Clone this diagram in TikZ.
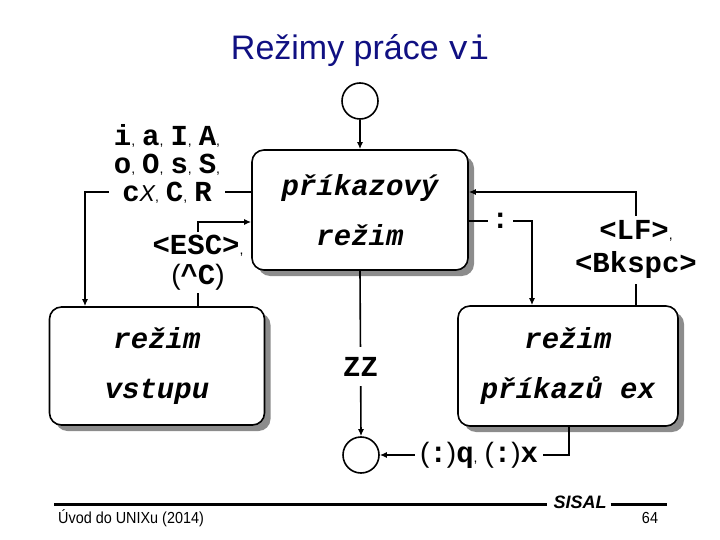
\documentclass[tikz,border=0pt]{standalone}
\usepackage{fontspec}
\usepackage{graphicx}
\setmainfont{Liberation Sans}
\setsansfont{Liberation Sans}
\setmonofont{Liberation Mono}
\usetikzlibrary{arrows.meta,shadows}
\definecolor{titleblue}{RGB}{16,16,130}
\newcommand{\cma}{{\sffamily\mdseries\upshape\fontsize{14}{14}\selectfont,\hspace{7pt}}}
\newcommand{\cmz}{{\sffamily\mdseries\upshape\fontsize{14}{14}\selectfont,}}
\newcommand{\lpar}{{\sffamily\mdseries\upshape\fontsize{28}{28}\selectfont(}}
\newcommand{\rpar}{{\sffamily\mdseries\upshape\fontsize{28}{28}\selectfont)}}
\newcommand{\sX}{{\sffamily\mdseries\itshape\fontsize{23}{23}\selectfont X}}
\begin{document}
\begin{tikzpicture}[x=1pt,y=-1pt,
  mbox/.style={draw, line width=1.6pt, rounded corners=12pt, fill=white, align=center,
    font=\ttfamily\bfseries\itshape\fontsize{29}{50}\selectfont, inner sep=0pt,
    drop shadow={shadow xshift=6pt, shadow yshift=-6pt, fill=black!45, opacity=1}},
  state/.style={circle, draw, line width=1.6pt, minimum size=36pt, inner sep=0pt, fill=white},
  conn/.style={line width=1.6pt},
  arr/.style={conn, -{Latex[length=7pt,width=6pt]}},
  lbl/.style={fill=white, inner sep=5pt, align=center,
    font=\ttfamily\bfseries\fontsize{29}{26}\selectfont}]
\useasboundingbox (0,0) rectangle (720,540);

% title
\node[font=\sffamily\fontsize{34}{34}\selectfont, text=titleblue] (title) at (360,51)
  {Režimy práce {\ttfamily vi}};

% states
\node[state] (start) at (360,101) {};
\node[mbox, minimum width=216pt, minimum height=120pt] (cmd) at (360,210) {příkazový\\režim};
\node[mbox, minimum width=215pt, minimum height=118pt] (inp) at (157,366) {režim\\vstupu};
\node[mbox, minimum width=220pt, minimum height=120pt] (ex) at (568,366) {režim\\příkazů ex};
\node[state] (stop) at (361,455) {};

% turning points
\coordinate (leftTurn) at (85,192);
\coordinate (escTurn) at (198,222);
\coordinate (colonTurn) at (532,221);
\coordinate (lfTurn) at (636,192);
\coordinate (qTurn) at (569,455);

% connectors
\draw[arr] (start) -- (cmd);
\draw[arr] (cmd.south) -- node[lbl, pos=0.58, inner ysep=10pt] (zzl) {ZZ} (stop.north);
\draw[arr] (cmd.east |- colonTurn) -- node[lbl, inner xsep=4pt] (coll) {:} (colonTurn) -- (colonTurn |- ex.north);
\draw[arr] (lfTurn |- ex.north) -- node[lbl, pos=0.49, font=\ttfamily\bfseries\fontsize{29}{33}\selectfont] (lfl)
  {<LF>\cmz\hspace{14pt}\\<Bkspc>} (lfTurn) -- (cmd.east |- lfTurn);
\draw[arr] (cmd.west |- leftTurn) -- (leftTurn) -- (leftTurn |- inp.north);
\node[lbl, inner xsep=5pt, inner ysep=2pt, font=\ttfamily\bfseries\fontsize{29}{28}\selectfont] (insl) at (167,164)
  {i\cma a\cma I\cma A\cmz\\o\cma O\cma s\cma S\cmz\\c\sX\cma C\cma R};
\draw[arr] (escTurn |- inp.north) -- node[lbl, pos=0.52, inner ysep=3pt, font=\ttfamily\bfseries\fontsize{29}{30}\selectfont] (escl)
  {<ESC>\cmz\\\lpar\textasciicircum C\rpar} (escTurn) -- (cmd.west |- escTurn);
\draw[arr] (ex.south -| qTurn) -- (qTurn) -- node[lbl, pos=0.475] (ql)
  {\lpar:\rpar q\cma\lpar:\rpar x} (stop.east);

% footer
\coordinate (fl1) at (54,504);
\coordinate (fl2) at (547,504);
\coordinate (fr2) at (667,504);
\node[font=\sffamily\bfseries\itshape\fontsize{18}{18}\selectfont, inner sep=4pt] (sisal) at (580,502) {SISAL};
\draw[line width=3pt] (fl1) -- (fl2);
\draw[line width=3pt] (sisal.east |- fr2) -- (fr2);
\node[anchor=west, font=\sffamily\fontsize{16}{16}\selectfont, inner sep=0pt] (foot) at (58,518)
  {\scalebox{0.9}[1]{Úvod do UNIXu (2014)}};
\node[font=\sffamily\fontsize{16}{16}\selectfont, inner sep=0pt] (page) at (650,518)
  {\scalebox{0.9}[1]{64}};
\end{tikzpicture}
\end{document}
